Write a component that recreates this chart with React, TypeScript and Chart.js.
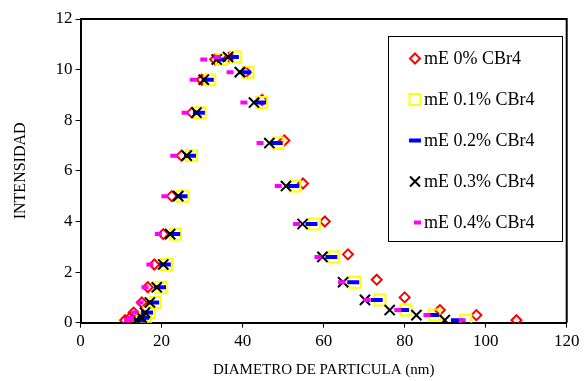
import React, { useEffect, useRef } from "react";
import { Chart, registerables } from "chart.js";

Chart.register(...registerables);

const seriesLabels = ["mE 0% CBr4", "mE 0.1% CBr4", "mE 0.2% CBr4", "mE 0.3% CBr4", "mE 0.4% CBr4"];

const yCommon = [0.1, 0.2, 0.4, 0.8, 1.4, 2.3, 3.5, 5.0, 6.6, 8.3, 9.6, 10.4, 10.5, 9.9, 8.7, 7.1, 5.4, 3.9, 2.6, 1.6, 0.9, 0.5, 0.3, 0.1];
const yDiamond = [0.1, 0.2, 0.4, 0.8, 1.4, 2.3, 3.5, 5.0, 6.6, 8.3, 9.6, 10.4, 10.5, 9.9, 8.8, 7.2, 5.5, 4.0, 2.7, 1.7, 1.0, 0.5, 0.3, 0.1];

const x0 = [11.0, 12.2, 13.1, 15.1, 16.6, 18.2, 20.4, 22.5, 24.9, 27.5, 29.9, 33.2, 36.8, 40.8, 44.8, 50.3, 54.9, 60.3, 66.0, 73.1, 80.0, 88.7, 97.7, 107.6];
const x01 = [15.2, 16.0, 16.9, 18.4, 19.8, 21.2, 23.4, 25.2, 27.4, 29.5, 31.9, 34.8, 38.3, 41.3, 44.7, 48.7, 52.9, 57.7, 62.5, 67.7, 73.9, 80.3, 87.4, 95.1];
const x02 = [14.6, 15.5, 16.4, 17.9, 19.6, 20.8, 23.1, 24.9, 27.0, 29.2, 31.4, 34.4, 37.6, 40.6, 44.3, 48.4, 52.5, 57.0, 61.9, 67.3, 73.1, 79.6, 87.0, 92.9];
const x03 = [13.8, 15.1, 15.9, 17.1, 18.8, 20.4, 22.1, 24.1, 26.2, 28.6, 30.4, 33.6, 36.4, 39.3, 42.8, 46.6, 50.7, 54.8, 59.7, 64.8, 70.2, 76.3, 82.9, 89.9];
const x04 = [11.6, 12.3, 13.4, 14.7, 15.9, 17.1, 19.2, 20.8, 23.0, 25.8, 27.8, 30.4, 33.7, 36.9, 40.3, 44.3, 48.8, 53.3, 58.6, 64.4, 70.7, 78.3, 85.5, 94.2];

const xTicks = [0, 20, 40, 60, 80, 100, 120];
const yTicks = [0, 2, 4, 6, 8, 10, 12];

const FONT = "'Liberation Serif', 'Times New Roman', serif";

function pts(xs: number[], ys: number[]) {
  return xs.map((x, i) => ({ x, y: ys[i] }));
}

const legendPlugin = {
  id: "boxLegend",
  afterDatasetsDraw(chart: any) {
    const ctx = chart.ctx;
    ctx.save();
    const bx = 388.5, by = 36.5, bw = 174, bh = 205;
    ctx.fillStyle = "#ffffff";
    ctx.fillRect(bx, by, bw, bh);
    ctx.strokeStyle = "#000000";
    ctx.lineWidth = 1;
    ctx.strokeRect(bx, by, bw, bh);
    const rows = [58.5, 99.5, 140.5, 181.5, 222.5];
    const mx = 415;
    ctx.font = `18px ${FONT}`;
    ctx.textBaseline = "middle";
    ctx.textAlign = "left";
    rows.forEach((ry, i) => {
      ctx.save();
      if (i === 0) {
        ctx.strokeStyle = "#ff0000";
        ctx.lineWidth = 2;
        ctx.beginPath();
        ctx.moveTo(mx, ry - 5);
        ctx.lineTo(mx + 5, ry);
        ctx.lineTo(mx, ry + 5);
        ctx.lineTo(mx - 5, ry);
        ctx.closePath();
        ctx.stroke();
      } else if (i === 1) {
        ctx.strokeStyle = "#ffff00";
        ctx.lineWidth = 2;
        ctx.strokeRect(mx - 5.5, ry - 5.5, 11, 11);
      } else if (i === 2) {
        ctx.fillStyle = "#0000ff";
        ctx.fillRect(mx - 6, ry - 2, 12, 4);
      } else if (i === 3) {
        ctx.strokeStyle = "#000000";
        ctx.lineWidth = 2;
        ctx.beginPath();
        ctx.moveTo(mx - 5, ry - 5);
        ctx.lineTo(mx + 5, ry + 5);
        ctx.moveTo(mx + 5, ry - 5);
        ctx.lineTo(mx - 5, ry + 5);
        ctx.stroke();
      } else {
        ctx.fillStyle = "#ff00ff";
        ctx.fillRect(mx - 1, ry - 2, 7, 4);
      }
      ctx.restore();
      ctx.fillStyle = "#000000";
      ctx.fillText(seriesLabels[i], 424, ry + 1);
    });
    ctx.restore();
  },
};

const framePlugin = {
  id: "frame",
  afterDraw(chart: any) {
    const { ctx, chartArea } = chart;
    ctx.save();
    ctx.strokeStyle = "#000000";
    ctx.lineWidth = 2;
    ctx.beginPath();
    ctx.moveTo(chartArea.left, chartArea.top);
    ctx.lineTo(chartArea.right, chartArea.top);
    ctx.lineTo(chartArea.right, chartArea.bottom);
    ctx.stroke();
    ctx.restore();
  },
};

export default function App() {
  const ref = useRef<HTMLCanvasElement | null>(null);
  useEffect(() => {
    document.body.style.margin = "0";
    const canvas = ref.current;
    if (!canvas) return;
    const chart = new Chart(canvas, {
      type: "scatter",
      data: {
        datasets: [
          {
            label: seriesLabels[0],
            data: pts(x0, yDiamond),
            pointStyle: "rectRot",
            pointRadius: 5,
            borderColor: "#ff0000",
            backgroundColor: "rgba(0,0,0,0)",
            borderWidth: 2,
            order: 5,
          },
          {
            label: seriesLabels[1],
            data: pts(x01, yCommon),
            pointStyle: "rect",
            pointRadius: 7.8,
            borderColor: "#ffff00",
            backgroundColor: "rgba(0,0,0,0)",
            borderWidth: 2,
            order: 4,
          },
          {
            label: seriesLabels[2],
            data: pts(x02, yCommon),
            pointStyle: "line",
            pointRadius: 6,
            borderColor: "#0000ff",
            backgroundColor: "#0000ff",
            borderWidth: 4,
            order: 3,
          },
          {
            label: seriesLabels[3],
            data: pts(x03, yCommon),
            pointStyle: "crossRot",
            pointRadius: 7.2,
            borderColor: "#000000",
            backgroundColor: "#000000",
            borderWidth: 2,
            order: 2,
          },
          {
            label: seriesLabels[4],
            data: pts(x04, yCommon),
            pointStyle: "line",
            pointRadius: 3.5,
            borderColor: "#ff00ff",
            backgroundColor: "#ff00ff",
            borderWidth: 4,
            order: 1,
          },
        ],
      },
      options: {
        responsive: false,
        animation: false,
        events: [],
        layout: { padding: { top: 19, right: 20.3, bottom: 0, left: 0 } },
        plugins: { legend: { display: false }, tooltip: { enabled: false } },
        scales: {
          x: {
            type: "linear",
            min: 0,
            max: 120,
            afterBuildTicks: (s: any) => {
              s.ticks = xTicks.map((v) => ({ value: v }));
            },
            afterFit: (s: any) => {
              s.height = 58.3;
            },
            ticks: { color: "#000", font: { family: FONT, size: 17 }, padding: 4 },
            grid: { display: true, drawOnChartArea: false, drawTicks: true, tickLength: 5, color: "#000", lineWidth: 1 },
            border: { display: true, color: "#000", width: 2 },
            title: {
              display: true,
              text: "DIAMETRO DE PARTICULA (nm)",
              color: "#000",
              font: { family: FONT, size: 15 },
              padding: { top: 0, bottom: 2 },
            },
          },
          y: {
            type: "linear",
            min: 0,
            max: 12,
            afterBuildTicks: (s: any) => {
              s.ticks = yTicks.map((v) => ({ value: v }));
            },
            afterFit: (s: any) => {
              s.width = 80.6;
            },
            ticks: { color: "#000", font: { family: FONT, size: 17 }, padding: 3 },
            grid: { display: true, drawOnChartArea: false, drawTicks: true, tickLength: 5, color: "#000", lineWidth: 1 },
            border: { display: true, color: "#000", width: 2 },
            title: {
              display: true,
              text: "INTENSIDAD",
              color: "#000",
              font: { family: FONT, size: 16 },
              padding: { top: 11, bottom: 0 },
            },
          },
        },
      },
      plugins: [legendPlugin, framePlugin],
    });
    return () => chart.destroy();
  }, []);
  return (
    <div style={{ width: 587, height: 381 }}>
      <canvas ref={ref} width={587} height={381} />
    </div>
  );
}
